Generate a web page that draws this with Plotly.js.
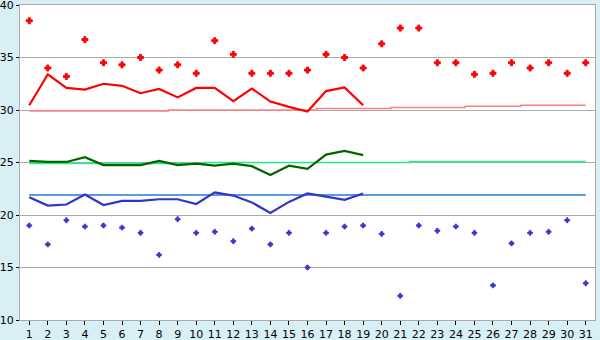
<!DOCTYPE html>
<html>
<head>
<meta charset="utf-8">
<script src="https://cdn.plot.ly/plotly-3.0.1.min.js"></script>
<style>html,body{margin:0;padding:0;background:#d9eff6;}#chart{width:600px;height:340px;}</style>
</head>
<body>
<div id="chart"></div>
<script>
const days = [1,2,3,4,5,6,7,8,9,10,11,12,13,14,15,16,17,18,19,20,21,22,23,24,25,26,27,28,29,30,31];
const highPoints = [38.5,34.0,33.2,36.7,34.5,34.3,35.0,33.8,34.3,33.5,36.6,35.3,33.5,33.5,33.5,33.8,35.3,35.0,34.0,36.3,37.8,37.8,34.5,34.5,33.4,33.5,34.5,34.0,34.5,33.5,34.5];
const lowPoints = [19.0,17.2,19.5,18.9,19.0,18.8,18.3,16.2,19.6,18.3,18.4,17.5,18.7,17.2,18.3,15.0,18.3,18.9,19.0,18.2,12.3,19.0,18.5,18.9,18.3,13.3,17.3,18.3,18.4,19.5,13.5];
const highAvg = [30.45,33.4,32.1,31.95,32.5,32.3,31.6,32.0,31.2,32.1,32.1,30.85,32.05,30.8,30.3,29.85,31.8,32.15,30.45];
const meanAvg = [25.15,25.05,25.05,25.5,24.75,24.75,24.75,25.15,24.75,24.9,24.7,24.9,24.65,23.8,24.7,24.4,25.75,26.1,25.7];
const lowAvg = [21.7,20.9,21.0,21.95,20.95,21.35,21.35,21.5,21.5,21.05,22.15,21.85,21.2,20.2,21.25,22.05,21.75,21.45,22.05];
const highNormal = [29.9,29.9,29.9,29.9,29.9,29.9,29.9,29.9,30.0,30.0,30.0,30.0,30.0,30.0,30.0,30.0,30.15,30.15,30.15,30.15,30.25,30.25,30.25,30.25,30.35,30.35,30.35,30.45,30.45,30.45,30.45];
const meanNormal = [24.9,24.9,24.9,24.9,24.9,24.9,24.9,24.9,24.9,24.9,25.0,25.0,25.0,25.0,25.0,25.0,25.0,25.0,25.0,25.0,25.0,25.1,25.1,25.1,25.1,25.1,25.1,25.1,25.1,25.1,25.1];
const lowNormal = [21.9,21.9,21.9,21.9,21.9,21.9,21.9,21.9,21.9,21.9,21.9,21.9,21.9,21.9,21.9,21.9,21.9,21.9,21.9,21.9,21.9,21.9,21.9,21.9,21.9,21.9,21.9,21.9,21.9,21.9,21.9];
const yTicks = [10,15,20,25,30,35,40];

const avgDays = days.slice(0, highAvg.length);

const traces = [
  {x: days, y: lowNormal, mode: 'lines', line: {color: '#2277dd', width: 1.5}, hoverinfo: 'skip'},
  {x: days, y: meanNormal, mode: 'lines', line: {color: '#22ee88', width: 1.5, shape: 'hvh'}, hoverinfo: 'skip'},
  {x: days, y: highNormal, mode: 'lines', line: {color: '#ff8080', width: 1.5, shape: 'hvh'}, hoverinfo: 'skip'},
  {x: avgDays, y: lowAvg, mode: 'lines', line: {color: '#3333cc', width: 2.2}},
  {x: avgDays, y: meanAvg, mode: 'lines', line: {color: '#006600', width: 2.2}},
  {x: avgDays, y: highAvg, mode: 'lines', line: {color: '#ff0000', width: 2.2}},
  {x: days, y: highPoints, mode: 'markers', marker: {symbol: 'cross', size: 5, color: '#ff0000', line: {width: 1, color: '#ff0000'}}},
  {x: days, y: lowPoints, mode: 'markers', marker: {symbol: 'cross', size: 4, color: '#3333cc', line: {width: 0.8, color: '#3333cc'}}}
];

const layout = {
  width: 600, height: 340,
  margin: {l: 20, r: 5, t: 5, b: 20, pad: 0},
  paper_bgcolor: '#d9eff6',
  plot_bgcolor: '#ffffff',
  showlegend: false,
  font: {family: 'DejaVu Sans', size: 11, color: '#000000'},
  xaxis: {
    range: [0.5, 31.5], tickmode: 'array', tickvals: days, ticktext: days.map(String),
    showgrid: false, zeroline: false, showline: true, mirror: true, linecolor: '#aaaaaa', linewidth: 1,
    ticks: 'outside', ticklen: 4, tickcolor: '#000000', tickfont: {family: 'DejaVu Sans', size: 11},
    ticklabeloverflow: 'allow'
  },
  yaxis: {
    range: [10, 40], tickmode: 'array', tickvals: yTicks,
    showgrid: true, gridcolor: '#aaaaaa', gridwidth: 1, zeroline: false,
    showline: true, mirror: true, linecolor: '#aaaaaa', linewidth: 1,
    ticks: 'outside', ticklen: 3, tickcolor: '#000000', tickfont: {family: 'DejaVu Sans', size: 11},
    ticklabeloverflow: 'allow'
  }
};

Plotly.newPlot('chart', traces, layout, {displayModeBar: false, staticPlot: true});
</script>
</body>
</html>
